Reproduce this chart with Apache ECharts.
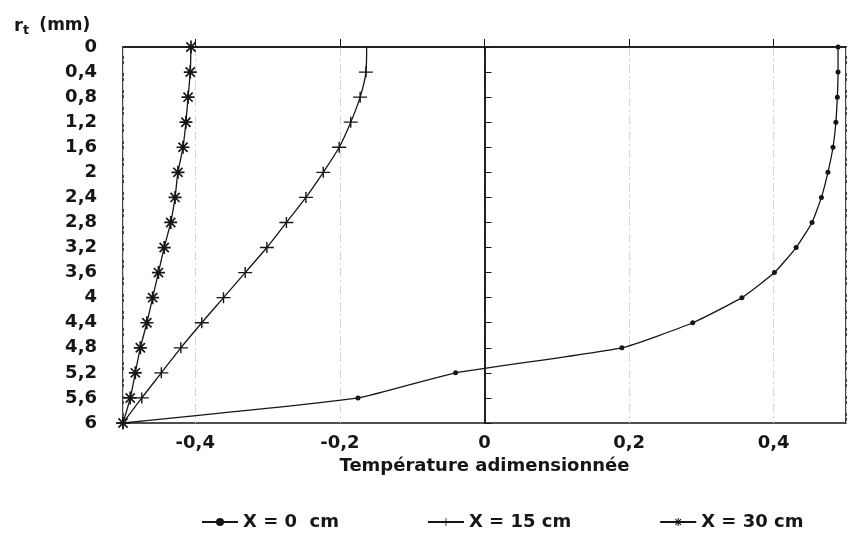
<!DOCTYPE html>
<html>
<head>
<meta charset="utf-8">
<script src="https://cdn.jsdelivr.net/npm/echarts@6/dist/echarts.min.js"></script>
<style>html,body{margin:0;padding:0;background:#fff}#c{width:850px;height:540px}</style>
</head>
<body>
<div id="c"></div>
<script>
// Radial positions r_t (mm)
const rValues = [0, 0.4, 0.8, 1.2, 1.6, 2.0, 2.4, 2.8, 3.2, 3.6, 4.0, 4.4, 4.8, 5.2, 5.6, 6.0];
// Dimensionless temperature for each axial position
const tempX0  = [0.489, 0.489, 0.488, 0.486, 0.482, 0.475, 0.466, 0.453, 0.431, 0.401, 0.356, 0.288, 0.190, -0.040, -0.175, -0.5];
const tempX15 = [-0.163, -0.164, -0.172, -0.185, -0.201, -0.223, -0.247, -0.274, -0.301, -0.331, -0.361, -0.391, -0.420, -0.447, -0.474, -0.5];
const tempX30 = [-0.406, -0.407, -0.410, -0.413, -0.417, -0.424, -0.428, -0.434, -0.443, -0.451, -0.459, -0.467, -0.476, -0.483, -0.490, -0.5];
const seriesNames = ['X = 0  cm', 'X = 15 cm', 'X = 30 cm'];
const yTicks = { min: 0, max: 6, step: 0.4 };
const xTicks = { min: -0.5, max: 0.5 };

const FONT = 'DejaVu Sans';
const INK = '#161616';
const fmt = v => String(Math.round(v * 10) / 10).replace('.', ',');
const pairs = (xs, hideFirst) => xs.map((x, i) => {
  const item = { value: [x, rValues[i]] };
  if (hideFirst && i === 0) item.symbol = 'none';
  return item;
});

const crossPath = 'path://M0,4.4 H12 V5.6 H0 Z M5.4,0 H6.6 V10 H5.4 Z';
const starPath = 'path://M0,4.35 H10 V5.65 H0 Z M4.35,0 H5.65 V10 H4.35 Z M1.0,1.92 L1.92,1.0 L9.0,8.08 L8.08,9.0 Z M8.08,1.0 L9.0,1.92 L1.92,9.0 L1.0,8.08 Z';

const lineStyle = { color: INK, width: 1.3 };
const chart = echarts.init(document.getElementById('c'), null, { renderer: 'canvas' });
chart.setOption({
  backgroundColor: '#fff',
  animation: false,
  textStyle: { fontFamily: FONT },
  title: {
    left: 9, top: 10,
    text: '{r|r}{t|t} {u|(mm)}',
    textStyle: {
      rich: {
        r: { fontFamily: FONT, fontWeight: 'bold', fontSize: 18, color: INK },
        t: { fontFamily: FONT, fontWeight: 'bold', fontSize: 13, color: INK, padding: [9, 4, 0, 0] },
        u: { fontFamily: FONT, fontWeight: 'bold', fontSize: 17, color: INK }
      }
    }
  },
  grid: { left: 123, right: 4, top: 47, bottom: 117, show: true, borderColor: INK, borderWidth: 1.6, backgroundColor: 'transparent' },
  legend: {
    left: 196, top: 508,
    itemWidth: 36, itemHeight: 10, itemGap: 88,
    textStyle: { fontFamily: FONT, fontSize: 18, fontWeight: 'bold', color: INK },
    data: seriesNames
  },
  xAxis: {
    type: 'value', min: xTicks.min, max: xTicks.max, splitNumber: 5,
    name: 'Température adimensionnée', nameLocation: 'middle', nameGap: 33,
    nameTextStyle: { fontFamily: FONT, fontSize: 18, fontWeight: 'bold', color: INK },
    axisLine: { show: true, lineStyle: { color: INK, width: 1.6 } },
    axisTick: { show: true, inside: true, length: 8, lineStyle: { color: INK, width: 1 } },
    axisLabel: { showMinLabel: false, showMaxLabel: false, margin: 11, formatter: fmt, fontFamily: FONT, fontSize: 18, fontWeight: 'bold', color: INK },
    splitLine: { show: true, lineStyle: { color: '#d6d6d6', width: 1, type: [9, 3, 2, 3] } }
  },
  yAxis: {
    type: 'value', inverse: true, min: yTicks.min, max: yTicks.max, interval: yTicks.step,
    axisLine: { show: true, lineStyle: { color: INK, width: 1.6 } },
    axisTick: { show: true, inside: true, length: 7, lineStyle: { color: INK, width: 1 } },
    axisLabel: { margin: 26, formatter: fmt, fontFamily: FONT, fontSize: 18, fontWeight: 'bold', color: INK },
    splitLine: { show: false }
  },
  series: [
    {
      name: seriesNames[0], type: 'line', smooth: 0.15,
      data: pairs(tempX0, false),
      symbol: 'circle', symbolSize: 5,
      itemStyle: { color: INK }, lineStyle: lineStyle,
      markLine: {
        silent: true, symbol: 'none', label: { show: false },
        lineStyle: { color: INK, width: 1.5, type: 'solid' },
        data: [{ xAxis: 0 }]
      }
    },
    {
      name: seriesNames[1], type: 'line', smooth: 0.3,
      data: pairs(tempX15, true),
      symbol: crossPath, symbolSize: [14, 11],
      itemStyle: { color: INK }, lineStyle: lineStyle
    },
    {
      name: seriesNames[2], type: 'line', smooth: 0.3,
      data: pairs(tempX30, false),
      symbol: starPath, symbolSize: 13,
      itemStyle: { color: INK }, lineStyle: lineStyle
    }
  ]
});
</script>
</body>
</html>
